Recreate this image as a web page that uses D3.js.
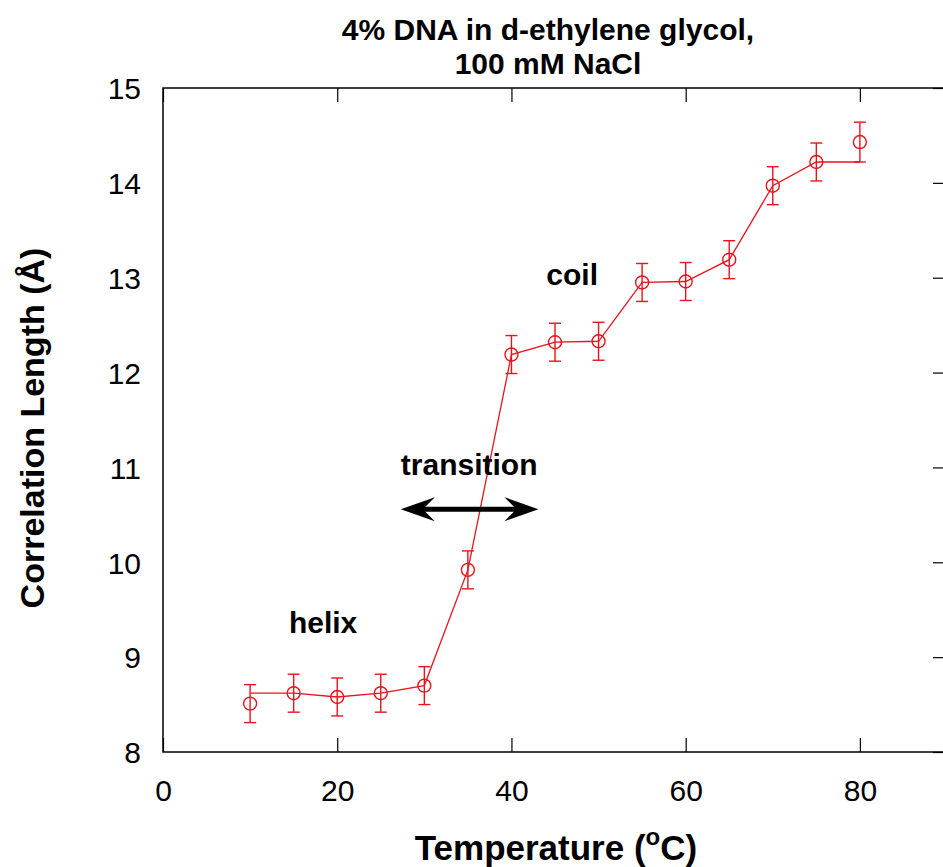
<!DOCTYPE html>
<html><head><meta charset="utf-8">
<script src="https://cdn.jsdelivr.net/npm/d3@7"></script>
<style>
html,body{margin:0;padding:0;background:#fff;}
svg{display:block;}
text{font-family:"Liberation Sans",Arial,Helvetica,sans-serif;}
</style></head>
<body>
<script>
// ---- data ----
const temperatures = [10, 15, 20, 25, 30, 35, 40, 45, 50, 55, 60, 65, 70, 75, 80];
const corrLength   = [8.51, 8.62, 8.58, 8.62, 8.70, 9.92, 12.19, 12.32, 12.33, 12.95, 12.96, 13.19, 13.97, 14.22, 14.43];
const errors       = [0.20, 0.20, 0.20, 0.20, 0.20, 0.20, 0.20, 0.20, 0.20, 0.20, 0.20, 0.20, 0.20, 0.20, 0.21];
const lineValues   = [8.62, 8.62, 8.58, 8.62, 8.70, 9.92, 12.19, 12.32, 12.33, 12.95, 12.96, 13.19, 13.97, 14.22, 14.22];
const xTicks = [0, 20, 40, 60, 80];
const yTicks = [8, 9, 10, 11, 12, 13, 14, 15];
const titleLines = ["4% DNA in d-ethylene glycol,", "100 mM NaCl"];
const annotations = [
  {text: "helix", x: 14.45, y: 9.25},
  {text: "transition", x: 27.3, y: 10.92},
  {text: "coil", x: 44.0, y: 12.92}
];
const arrowRange = {x0: 27.3, x1: 43.1, y: 10.56};

// ---- layout ----
const W = 943, H = 867;
const margin = {left: 163, top: 88};
const plotW = 784, plotH = 664;
const red = "#e8141c";

const svg = d3.select("body").append("svg").attr("width", W).attr("height", H);

const x = d3.scaleLinear().domain([0, 90]).range([margin.left, margin.left + plotW]);
const y = d3.scaleLinear().domain([8, 15]).range([margin.top + plotH, margin.top]);

// frame
svg.append("rect").attr("x", x(0)).attr("y", y(15)).attr("width", x(90) - x(0)).attr("height", y(8) - y(15))
  .attr("fill", "none").attr("stroke", "#000").attr("stroke-width", 1.5);

// axes (inward ticks)
const tl = 14;
const fmt = d3.format("d");
const gB = svg.append("g").attr("transform", `translate(0,${y(8)})`)
  .call(d3.axisBottom(x).tickValues(xTicks).tickFormat(fmt).tickSizeInner(-tl).tickSizeOuter(0).tickPadding(tl + 14));
const gT = svg.append("g").attr("transform", `translate(0,${y(15)})`)
  .call(d3.axisTop(x).tickValues(xTicks).tickSizeInner(-tl).tickSizeOuter(0).tickFormat(""));
const gL = svg.append("g").attr("transform", `translate(${x(0)},0)`)
  .call(d3.axisLeft(y).tickValues(yTicks).tickFormat(fmt).tickSizeInner(0).tickSizeOuter(0).tickPadding(22));
const gR = svg.append("g").attr("transform", `translate(${x(90)},0)`)
  .call(d3.axisRight(y).tickValues(yTicks).tickSizeInner(-tl).tickSizeOuter(0).tickFormat(""));
[gB, gT, gL, gR].forEach(g => {
  g.select(".domain").remove();
  g.selectAll(".tick line").attr("stroke", "#000").attr("stroke-width", 1.2);
  g.selectAll(".tick text").attr("font-size", 30).attr("fill", "#000")
    .attr("font-family", '"Liberation Sans", Arial, sans-serif');
});
gL.selectAll(".tick line").remove();
gL.selectAll(".tick text").attr("dy", "0.36em");

// line
const line = d3.line().x((d, i) => x(temperatures[i])).y(d => y(d));
svg.append("path").datum(lineValues).attr("d", line)
  .attr("fill", "none").attr("stroke", red).attr("stroke-width", 1.3);

// error bars
const eb = svg.append("g").attr("stroke", red).attr("stroke-width", 1.4);
temperatures.forEach((t, i) => {
  const cx = x(t), lo = y(corrLength[i] - errors[i]), hi = y(corrLength[i] + errors[i]);
  eb.append("line").attr("x1", cx).attr("x2", cx).attr("y1", lo).attr("y2", hi);
  eb.append("line").attr("x1", cx - 6).attr("x2", cx + 6).attr("y1", lo).attr("y2", lo);
  eb.append("line").attr("x1", cx - 6).attr("x2", cx + 6).attr("y1", hi).attr("y2", hi);
});

// markers
svg.append("g").selectAll("circle").data(corrLength).join("circle")
  .attr("cx", (d, i) => x(temperatures[i])).attr("cy", d => y(d)).attr("r", 6.5)
  .attr("fill", "none").attr("stroke", red).attr("stroke-width", 1.4);

// title
svg.append("text").attr("x", 548).attr("y", 40).attr("text-anchor", "middle")
  .attr("font-size", 30).attr("font-weight", "bold").text(titleLines[0]);
svg.append("text").attr("x", 548).attr("y", 74).attr("text-anchor", "middle")
  .attr("font-size", 30).attr("font-weight", "bold").text(titleLines[1]);

// axis labels
const xl = svg.append("text").attr("x", 556).attr("y", 860).attr("text-anchor", "middle")
  .attr("font-size", 35).attr("font-weight", "bold");
xl.append("tspan").text("Temperature (");
xl.append("tspan").attr("dy", -15).attr("font-size", 24).text("o");
xl.append("tspan").attr("dy", 15).text("C)");

svg.append("text").attr("transform", "translate(44,428) rotate(-90)").attr("text-anchor", "middle")
  .attr("font-size", 34).attr("font-weight", "bold").text("Correlation Length (Å)");

// annotations
svg.append("g").selectAll("text").data(annotations).join("text")
  .attr("x", d => x(d.x)).attr("y", d => y(d.y))
  .attr("font-size", 30).attr("font-weight", "bold").text(d => d.text);

// double arrow
const ax0 = x(arrowRange.x0), ax1 = x(arrowRange.x1), ay = y(arrowRange.y);
svg.append("line").attr("x1", ax0 + 15).attr("x2", ax1 - 15).attr("y1", ay).attr("y2", ay)
  .attr("stroke", "#000").attr("stroke-width", 5);
const head = (tx, dir) => `M${tx},${ay} L${tx + dir * 34},${ay - 12} L${tx + dir * 22},${ay} L${tx + dir * 34},${ay + 12} Z`;
svg.append("path").attr("d", head(ax0, 1)).attr("fill", "#000");
svg.append("path").attr("d", head(ax1, -1)).attr("fill", "#000");
</script>
</body></html>
